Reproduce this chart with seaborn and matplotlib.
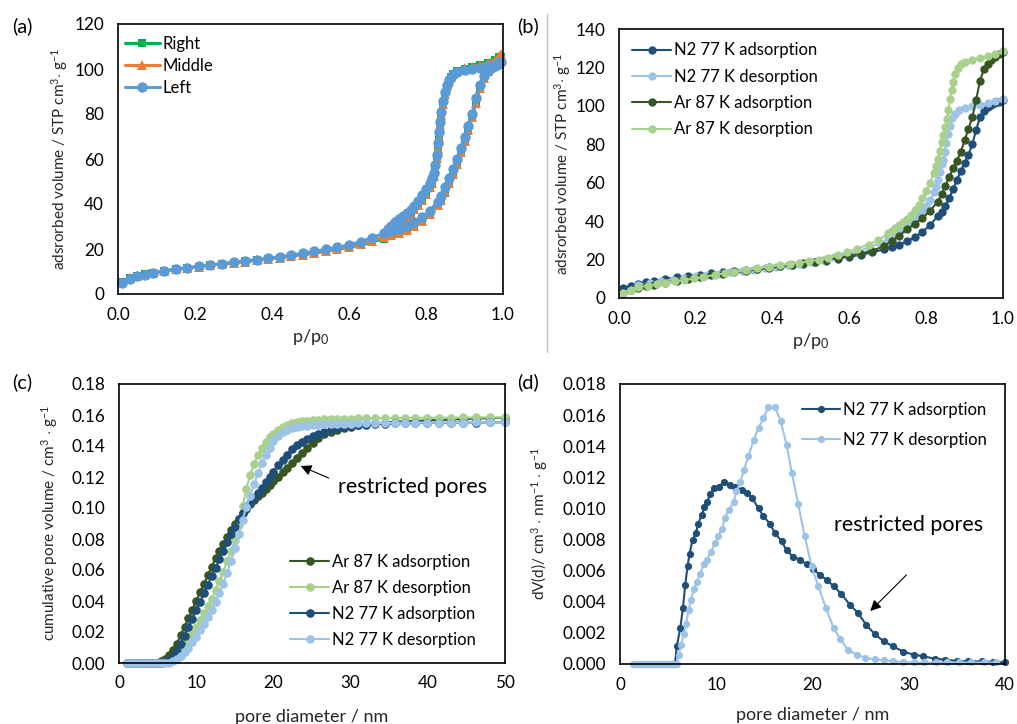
import matplotlib
matplotlib.use("Agg")
import matplotlib.pyplot as plt
import matplotlib.lines as mlines
from matplotlib.ticker import MultipleLocator, FormatStrFormatter
import seaborn as sns

# ---------------- data: panel (a) ----------------
pa_ads = [0.01, 0.03, 0.05, 0.07, 0.09, 0.12, 0.15, 0.18, 0.21, 0.24, 0.27, 0.30, 0.33, 0.36, 0.39,
          0.42, 0.45, 0.48, 0.51, 0.54, 0.57, 0.60, 0.63, 0.66, 0.69, 0.71, 0.73, 0.75, 0.77, 0.79,
          0.81, 0.83, 0.84, 0.85, 0.86, 0.87, 0.88, 0.89, 0.90, 0.91, 0.92, 0.93, 0.94, 0.95, 0.96,
          0.97, 0.98, 0.99, 0.995]
pa_des = [0.99, 0.98, 0.96, 0.94, 0.92, 0.90, 0.88, 0.87, 0.865, 0.86, 0.855, 0.85, 0.845, 0.84,
          0.837, 0.834, 0.831, 0.828, 0.824, 0.82, 0.815, 0.81, 0.80, 0.79, 0.78, 0.77, 0.76, 0.75,
          0.74, 0.73, 0.72, 0.71, 0.70]
left_ads = [5.0, 6.8, 7.8, 8.6, 9.3, 10.2, 11.0, 11.7, 12.3, 12.9, 13.5, 14.1, 14.7, 15.3, 15.9,
            16.6, 17.3, 18.1, 18.9, 19.8, 20.8, 21.8, 23.2, 25.0, 27.0, 28.0, 29.0, 30.3, 32.0, 34.2,
            37.0, 41.0, 43.5, 47.5, 51.5, 55.5, 60.0, 65.0, 70.0, 74.5, 80.0, 87.0, 93.0, 97.0, 99.0,
            100.3, 101.3, 102.3, 103.0]
left_des = [103.0, 102.0, 101.2, 100.6, 100.0, 99.4, 98.6, 97.6, 96.5, 95.0, 93.0, 90.0, 86.0, 81.0,
            76.5, 72.0, 67.0, 62.0, 57.5, 54.0, 51.5, 49.5, 46.5, 43.8, 41.3, 39.3, 37.2, 35.8,
            34.5, 33.2, 31.8, 30.3, 28.8]
middle_ads = [5.5, 7.0, 8.0, 8.8, 9.4, 10.2, 11.0, 11.6, 12.2, 12.8, 13.3, 13.9, 14.4, 15.0, 15.5,
              16.1, 16.8, 17.5, 18.2, 19.0, 19.9, 20.9, 22.1, 23.6, 25.3, 26.3, 27.3, 28.6, 30.3, 32.5,
              35.5, 39.5, 42.0, 45.5, 49.5, 53.5, 58.0, 63.0, 68.0, 73.0, 78.5, 85.0, 91.5, 96.0, 99.0,
              101.0, 102.5, 104.0, 106.5]
middle_des = [106.0, 104.0, 102.6, 101.8, 101.0, 100.3, 99.0, 97.8, 96.5, 94.8, 92.5, 89.0, 84.5, 79.5,
              75.0, 70.0, 65.0, 60.5, 56.0, 52.5, 49.5, 47.5, 44.5, 42.0, 39.7, 37.6, 35.7, 34.2,
              32.8, 31.5, 30.0, 28.5, 27.0]
right_ads = [5.3, 6.9, 7.9, 8.7, 9.4, 10.2, 11.0, 11.6, 12.2, 12.8, 13.4, 13.9, 14.5, 15.0, 15.6,
             16.2, 16.9, 17.5, 18.2, 19.0, 19.8, 20.7, 21.8, 23.1, 24.6, 25.7, 27.0, 28.4, 30.2, 32.5,
             35.3, 39.3, 42.3, 46.0, 50.0, 54.0, 58.5, 63.5, 68.5, 73.5, 79.0, 85.5, 92.0, 96.3, 99.2,
             101.0, 102.4, 103.8, 105.5]
right_des = [105.5, 103.8, 102.5, 101.7, 100.9, 100.2, 99.0, 97.8, 96.4, 94.6, 92.2, 88.5, 84.0, 79.0,
             74.5, 69.5, 64.5, 60.0, 55.8, 52.3, 49.3, 47.3, 44.4, 41.9, 39.6, 37.5, 35.7, 34.2,
             32.8, 31.5, 30.0, 28.6, 27.2]

# ---------------- data: panel (b) ----------------
pb_ads = [0.01, 0.03, 0.05, 0.07, 0.09, 0.12, 0.15, 0.18, 0.21, 0.24, 0.27, 0.30, 0.33, 0.36, 0.39,
          0.42, 0.45, 0.48, 0.51, 0.54, 0.57, 0.60, 0.63, 0.66, 0.69, 0.71, 0.73, 0.75, 0.77, 0.79,
          0.81, 0.83, 0.84, 0.85, 0.86, 0.87, 0.88, 0.89, 0.90, 0.91, 0.92, 0.93, 0.94, 0.95, 0.96,
          0.97, 0.98, 0.99, 1.0]
n2_ads = [5.0, 6.5, 7.5, 8.3, 9.0, 9.9, 10.7, 11.5, 12.2, 12.9, 13.5, 14.1, 14.7, 15.3, 15.9,
          16.5, 17.2, 17.9, 18.7, 19.5, 20.4, 21.4, 22.5, 23.8, 25.3, 26.4, 27.7, 29.5, 31.6, 34.3,
          38.0, 42.5, 45.0, 48.0, 52.0, 56.5, 61.5, 66.0, 70.5, 74.5, 80.0, 87.5, 94.0, 97.5, 99.2,
          100.3, 101.3, 102.2, 103.0]
ar_ads = [2.5, 4.0, 5.0, 6.0, 6.8, 8.0, 9.0, 10.0, 10.9, 11.8, 12.6, 13.4, 14.1, 14.9, 15.6,
          16.4, 17.2, 18.0, 18.9, 19.8, 20.8, 21.9, 23.1, 24.6, 27.0, 29.5, 32.5, 35.8, 38.5, 41.5,
          45.5, 50.0, 54.0, 58.5, 63.0, 67.5, 71.5, 76.0, 82.0, 88.0, 94.0, 103.0, 113.0, 119.0, 122.0,
          124.0, 125.5, 126.8, 128.0]
pb_n2_des = [1.0, 0.98, 0.96, 0.94, 0.92, 0.90, 0.885, 0.875, 0.868, 0.862, 0.857, 0.852, 0.848, 0.844,
             0.84, 0.835, 0.83, 0.825, 0.82, 0.81, 0.80, 0.79, 0.78, 0.77, 0.76, 0.75, 0.74, 0.73,
             0.72, 0.71, 0.70, 0.68, 0.65, 0.62, 0.59, 0.56, 0.53, 0.50, 0.47, 0.44, 0.41, 0.38,
             0.35, 0.32, 0.29, 0.26, 0.23, 0.20, 0.17, 0.14, 0.11, 0.08, 0.05]
n2_des = [103.5, 102.5, 101.5, 100.5, 99.8, 98.8, 97.8, 96.0, 93.5, 89.5, 85.5, 80.5, 76.0, 72.0,
          69.5, 65.5, 61.5, 58.0, 55.0, 51.0, 48.0, 45.5, 43.0, 41.0, 39.2, 37.5, 36.0, 34.5,
          33.2, 31.9, 30.6, 28.6, 26.2, 24.2, 22.6, 21.2, 20.0, 18.9, 17.9, 17.0, 16.2, 15.4,
          14.7, 14.0, 13.3, 12.6, 11.9, 11.2, 10.4, 9.6, 8.8, 7.9, 6.8]
pb_ar_des = [1.0, 0.98, 0.96, 0.94, 0.92, 0.90, 0.89, 0.882, 0.876, 0.871, 0.866, 0.862, 0.858, 0.854,
             0.85, 0.845, 0.84, 0.835, 0.83, 0.825, 0.82, 0.81, 0.80, 0.79, 0.78, 0.77, 0.76, 0.75,
             0.74, 0.73, 0.72, 0.71, 0.70, 0.675, 0.65, 0.62, 0.595, 0.57, 0.545, 0.52, 0.495, 0.47,
             0.445, 0.42, 0.39, 0.36, 0.33, 0.30, 0.275, 0.25, 0.22, 0.195, 0.17, 0.145, 0.12, 0.10,
             0.075, 0.05, 0.03, 0.01]
ar_des = [128.5, 127.0, 125.8, 124.8, 124.0, 122.8, 121.8, 119.8, 116.5, 112.5, 108.0, 103.5, 98.0, 93.0,
          89.0, 85.0, 81.0, 76.5, 72.5, 68.5, 65.0, 60.0, 55.5, 51.8, 48.5, 45.7, 43.3, 41.2,
          39.5, 38.0, 36.5, 35.0, 33.6, 30.0, 27.8, 25.7, 24.0, 22.3, 21.0, 19.9, 19.2, 18.4,
          17.8, 17.1, 16.3, 15.4, 14.5, 13.6, 12.8, 12.0, 11.0, 10.2, 9.3, 8.6, 7.9, 7.3,
          6.5, 5.6, 4.4, 2.6]

# ---------------- data: panel (c) ----------------
dc = [1.0, 1.5, 2.0, 2.5, 3.0, 3.5, 4.0, 4.5, 5.0, 5.5, 6.0, 6.5, 7.0, 7.5, 8.0, 8.5, 9.0, 9.5, 10.0,
      10.5, 11.0, 11.5, 12.0, 12.5, 13.0, 13.5, 14.0, 14.5, 15.0, 15.5, 16.0, 16.5, 17.0, 17.5, 18.0,
      18.5, 19.0, 19.5, 20.0, 20.6, 21.2, 21.8, 22.4, 23.0, 23.7, 24.4, 25.1, 25.8, 26.6, 27.4, 28.2,
      29.1, 30.0, 31.0, 32.0, 33.2, 34.4, 35.7, 37.0, 38.4, 39.9, 41.4, 43.0, 44.6, 46.3, 48.1, 50.0]
cum_ar_ads = [0, 0, 0, 0, 0, 0, 0, 0, 0.0003, 0.001, 0.0025, 0.005, 0.0085, 0.0125, 0.018, 0.0235,
              0.029, 0.0345, 0.040, 0.0455, 0.051, 0.0565, 0.062, 0.0675, 0.0725, 0.077, 0.0815,
              0.0855, 0.0895, 0.093, 0.0965, 0.0995, 0.1025, 0.105, 0.1075, 0.110, 0.1125, 0.115,
              0.1175, 0.1203, 0.123, 0.126, 0.129, 0.132, 0.1355, 0.139, 0.1422, 0.145, 0.1475,
              0.1492, 0.1505, 0.1516, 0.1525, 0.1533, 0.154, 0.1546, 0.1551, 0.1555, 0.1559, 0.1562,
              0.1565, 0.1568, 0.1571, 0.1574, 0.1577, 0.158, 0.1583]
cum_ar_des = [0, 0, 0, 0, 0, 0, 0, 0, 0, 0, 0.0005, 0.0015, 0.003, 0.005, 0.008, 0.0115, 0.0155,
              0.0195, 0.0235, 0.0276, 0.032, 0.0365, 0.0415, 0.047, 0.053, 0.059, 0.0655, 0.072,
              0.0795, 0.089, 0.101, 0.1125, 0.1215, 0.1285, 0.134, 0.1385, 0.1425, 0.1455, 0.148,
              0.1505, 0.1523, 0.1537, 0.1548, 0.1555, 0.156, 0.1564, 0.1567, 0.157, 0.1572, 0.1574,
              0.1575, 0.1576, 0.1577, 0.1578, 0.1579, 0.158, 0.158, 0.1581, 0.1581, 0.1582, 0.1582,
              0.1583, 0.1583, 0.1584, 0.1584, 0.1585, 0.1585]
cum_n2_ads = [0, 0, 0, 0, 0, 0, 0, 0, 0, 0, 0.0005, 0.002, 0.0045, 0.008, 0.0125, 0.0175, 0.023,
              0.0285, 0.034, 0.0395, 0.045, 0.0505, 0.056, 0.0615, 0.067, 0.0725, 0.078, 0.083,
              0.088, 0.093, 0.097, 0.1005, 0.1035, 0.1065, 0.1095, 0.113, 0.1165, 0.120, 0.1235,
              0.1275, 0.131, 0.1345, 0.138, 0.1405, 0.1428, 0.1448, 0.1465, 0.148, 0.1493, 0.1505,
              0.1514, 0.152, 0.1527, 0.1533, 0.1537, 0.1541, 0.1544, 0.1546, 0.1547, 0.1548, 0.1549,
              0.155, 0.155, 0.1551, 0.1551, 0.1552, 0.1552]
cum_n2_des = [0, 0, 0, 0, 0, 0, 0, 0, 0, 0, 0, 0.0003, 0.001, 0.0025, 0.0045, 0.007, 0.010, 0.0133,
              0.017, 0.021, 0.025, 0.0295, 0.0345, 0.0395, 0.045, 0.051, 0.058, 0.066, 0.074, 0.083,
              0.0925, 0.1005, 0.108, 0.1155, 0.1225, 0.129, 0.1345, 0.139, 0.143, 0.1465, 0.149,
              0.1505, 0.1515, 0.1522, 0.1528, 0.1532, 0.1535, 0.1538, 0.154, 0.1542, 0.1543, 0.1544,
              0.1545, 0.1546, 0.1547, 0.1548, 0.1548, 0.1549, 0.1549, 0.155, 0.155, 0.1551, 0.1551,
              0.1551, 0.1552, 0.1552, 0.1552]

# ---------------- data: panel (d) ----------------
dd_ads = [1.5, 1.8, 2.1, 2.4, 2.7, 3.0, 3.3, 3.6, 3.9, 4.2, 4.5, 4.8, 5.1, 5.4, 5.7,
          5.9, 6.26, 6.54, 6.78, 7.02, 7.23, 7.54, 7.89, 8.1, 8.51, 8.75, 9.03, 9.38, 9.72, 10.24,
          10.83, 11.45, 11.97, 12.66, 13.18, 13.7, 14.4, 14.9, 15.6, 16.1, 16.8, 17.3, 18.0, 18.7,
          19.4, 20.1, 20.8, 21.5, 22.2, 23.0, 23.9, 24.7, 25.6, 26.5, 27.4, 28.4, 29.4, 30.5, 31.5,
          32.7, 33.8, 35.0, 36.2, 37.6, 38.8, 40.0]
dv_ads = [0, 0, 0, 0, 0, 0, 0, 0, 0, 0, 0, 0, 0, 0, 0,
          0.00113, 0.0023, 0.0036, 0.0051, 0.0063, 0.0071, 0.008, 0.0084, 0.009, 0.0096, 0.0101,
          0.0104, 0.0109, 0.0113, 0.0114, 0.0117, 0.0115, 0.0114, 0.0112, 0.011, 0.0107, 0.0100,
          0.0095, 0.009, 0.0084, 0.0079, 0.0073, 0.0069, 0.0067, 0.0064, 0.0061, 0.0057, 0.0054,
          0.005, 0.0045, 0.0038, 0.0033, 0.0025, 0.0019, 0.00146, 0.00113, 0.0008, 0.0006, 0.0005,
          0.00034, 0.00028, 0.0002, 0.00017, 0.00017, 0.00013, 0.0001]
dd_des = [1.4, 1.7, 2.0, 2.3, 2.6, 2.9, 3.2, 3.5, 3.8, 4.1, 4.4, 4.7, 5.0, 5.3, 5.6, 5.9,
          6.1, 6.33, 6.6, 6.88, 7.13, 7.37, 7.65, 8.0, 8.34, 8.68, 9.03, 9.45, 9.9, 10.2, 10.6,
          10.9, 11.3, 11.8, 12.1, 12.5, 12.9, 13.35, 13.9, 14.4, 14.9, 15.4, 16.1, 16.7, 17.3,
          17.85, 18.5, 19.2, 19.9, 20.6, 21.4, 22.2, 22.9, 23.7, 24.6, 25.5, 26.5, 27.4, 28.4,
          29.4, 30.5, 31.6, 32.8, 34.0, 35.2, 36.5, 37.8, 39.1]
dv_des = [0, 0, 0, 0, 0, 0, 0, 0, 0, 0, 0, 0, 0, 0, 0, 0,
          0.0006, 0.0012, 0.0019, 0.0026, 0.0035, 0.0041, 0.0048, 0.0053, 0.0058, 0.0064, 0.0067,
          0.0072, 0.0078, 0.0082, 0.0087, 0.0094, 0.0099, 0.0104, 0.0111, 0.0117, 0.0125, 0.0134,
          0.0144, 0.0152, 0.0158, 0.0165, 0.0165, 0.0156, 0.0141, 0.0123, 0.0103, 0.0082, 0.0063,
          0.005, 0.0036, 0.0023, 0.0016, 0.0009, 0.0006, 0.0004, 0.0003, 0.00024, 0.00017, 0.00013,
          0.0001, 0.0001, 0.0001, 0.0001, 0.0001, 0.0001, 0.0001, 0.0001]

# ---------------- style ----------------
C_RIGHT, C_MIDDLE, C_LEFT = "#00B050", "#ED7D31", "#5B9BD5"
C_N2A, C_N2D, C_ARA, C_ARD = "#1F4E79", "#9DC3E6", "#375623", "#A9D18E"

sns.set_theme(style="white")
plt.rcParams["font.family"] = ["Lato", "DejaVu Sans"]
plt.rcParams["mathtext.fontset"] = "custom"
plt.rcParams["mathtext.rm"] = "Lato"
plt.rcParams["mathtext.it"] = "Lato:italic"
plt.rcParams["mathtext.bf"] = "Lato:bold"
plt.rcParams["text.color"] = "black"

TICK_FS, LEG_FS, XL_FS, YL_FS, ANN_FS, LET_FS = 12.3, 12, 13, 11, 15.5, 14.5

W, H = 1017, 724
fig = plt.figure(figsize=(W / 100, H / 100), dpi=100)


def px_axes(l, t, r, b):
    return fig.add_axes([l / W, 1 - b / H, (r - l) / W, (b - t) / H])


def style(ax, xlim, ylim, xstep, ystep, xfmt, yfmt):
    ax.set_xlim(*xlim)
    ax.set_ylim(*ylim)
    ax.xaxis.set_major_locator(MultipleLocator(xstep))
    ax.yaxis.set_major_locator(MultipleLocator(ystep))
    ax.xaxis.set_major_formatter(FormatStrFormatter(xfmt))
    ax.yaxis.set_major_formatter(FormatStrFormatter(yfmt))
    for s in ax.spines.values():
        s.set_color("black")
        s.set_linewidth(1.2)
        s.set_visible(True)
    ax.tick_params(axis="both", length=0, labelsize=TICK_FS, colors="black")
    ax.tick_params(axis="x", pad=9)
    ax.tick_params(axis="y", pad=10)
    ax.grid(False)


def draw(ax, x, y, color, label, marker="o", ms=6, lw=1.5):
    sns.lineplot(x=x, y=y, ax=ax, color=color, marker=marker, markersize=ms,
                 linewidth=lw, markeredgewidth=0, sort=False, estimator=None,
                 label=label, clip_on=False)


def labels(ax, xl, yl, xy, yx):
    ax.set_xlabel(xl, fontsize=XL_FS)
    ax.set_ylabel(yl, fontsize=YL_FS)
    ax.xaxis.set_label_coords(0.5, xy)
    ax.yaxis.set_label_coords(yx, 0.5)
    ax.xaxis.label.set_va("center")
    ax.yaxis.label.set_va("center")


def legend(ax, loc, spacing, pad, hl=2.3, anchor=None):
    kw = {}
    if anchor is not None:
        kw["bbox_to_anchor"] = anchor
    ax.legend(loc=loc, frameon=False, fontsize=LEG_FS, handlelength=hl, handletextpad=0.2,
              labelspacing=spacing, borderaxespad=pad, borderpad=0.3, **kw)


# ---------------- panel (a) ----------------
axa = px_axes(118, 24, 503, 294)
draw(axa, pa_ads + pa_des, right_ads + right_des, C_RIGHT, "Right", marker="s", ms=5.5, lw=2.2)
draw(axa, pa_ads + pa_des, middle_ads + middle_des, C_MIDDLE, "Middle", marker="^", ms=7.5, lw=2.2)
draw(axa, pa_ads + pa_des, left_ads + left_des, C_LEFT, "Left", marker="o", ms=7.5, lw=2.2)
style(axa, (0, 1.0), (0, 120), 0.2, 20, "%.1f", "%d")
labels(axa, r"p/p$_{0}$", r"adsrorbed volume / STP cm$^{3}$$\cdot$ g$^{-1}$", -0.16, -0.152)
legend(axa, "upper left", 0.37, 0.1, hl=2.1, anchor=(0.0, 1 - 5 / 270))

# ---------------- panel (b) ----------------
axb = px_axes(619, 29, 1003, 298)
draw(axb, pb_ads, n2_ads, C_N2A, "N2 77 K adsorption", ms=6)
draw(axb, pb_n2_des, n2_des, C_N2D, "N2 77 K desorption", ms=6)
draw(axb, pb_ads, ar_ads, C_ARA, "Ar 87 K adsorption", ms=6)
draw(axb, pb_ar_des, ar_des, C_ARD, "Ar 87 K desorption", ms=6)
style(axb, (0, 1.0), (0, 140), 0.2, 20, "%.1f", "%d")
labels(axb, r"p/p$_{0}$", r"adsrorbed volume / STP cm$^{3}$$\cdot$ g$^{-1}$", -0.158, -0.147)
legend(axb, "upper left", 0.62, 0.5)

# ---------------- panel (c) ----------------
axc = px_axes(119, 384, 505, 663)
draw(axc, dc, cum_ar_ads, C_ARA, "Ar 87 K adsorption", ms=6.2)
draw(axc, dc, cum_ar_des, C_ARD, "Ar 87 K desorption", ms=6.2)
draw(axc, dc, cum_n2_ads, C_N2A, "N2 77 K adsorption", ms=6.2)
draw(axc, dc, cum_n2_des, C_N2D, "N2 77 K desorption", ms=6.2)
style(axc, (0, 50), (0, 0.18), 10, 0.02, "%d", "%.2f")
labels(axc, "pore diameter / nm", r"cumulative pore volume / cm$^{3}$ $\cdot$ g$^{-1}$", -0.195, -0.18)
legend(axc, "lower right", 0.6, 0.6, anchor=(1 - 14 / 386, 0.0))
axc.text(28.4, 0.1138, "restricted pores", fontsize=ANN_FS, ha="left", va="center")
axc.annotate("", xy=(23.2, 0.1278), xytext=(27.5, 0.1186),
             arrowprops=dict(arrowstyle="-|>", color="black", lw=0.8, mutation_scale=16))

# ---------------- panel (d) ----------------
axd = px_axes(620, 384, 1005, 664)
draw(axd, dd_ads, dv_ads, C_N2A, "N2 77 K adsorption", ms=5.2)
draw(axd, dd_des, dv_des, C_N2D, "N2 77 K desorption", ms=5.2)
style(axd, (0, 40), (0, 0.018), 10, 0.002, "%d", "%.3f")
labels(axd, "pore diameter / nm",
       r"dV(d)/ cm$^{3}$ $\cdot$ nm$^{-1}$ $\cdot$ g$^{-1}$", -0.183, -0.21)
legend(axd, "upper right", 0.87, 0.4, anchor=(1 - 6 / 385, 1 - 6 / 280))
axd.text(30.0, 0.00895, "restricted pores", fontsize=ANN_FS, ha="center", va="center")
axd.annotate("", xy=(25.8, 0.00328), xytext=(29.96, 0.00585),
             arrowprops=dict(arrowstyle="-|>", color="black", lw=0.8, mutation_scale=16))

# ---------------- panel letters and separator ----------------
for txt, x, y in [("(a)", 12, 26), ("(b)", 517, 26), ("(c)", 12, 382), ("(d)", 517, 382)]:
    fig.text(x / W, 1 - y / H, txt, fontsize=LET_FS, ha="left", va="center")
fig.add_artist(mlines.Line2D([547 / W, 547 / W], [1 - 14 / H, 1 - 352 / H],
                             color="#BFBFBF", lw=1, transform=fig.transFigure))

fig.savefig("out.png", dpi=100)
